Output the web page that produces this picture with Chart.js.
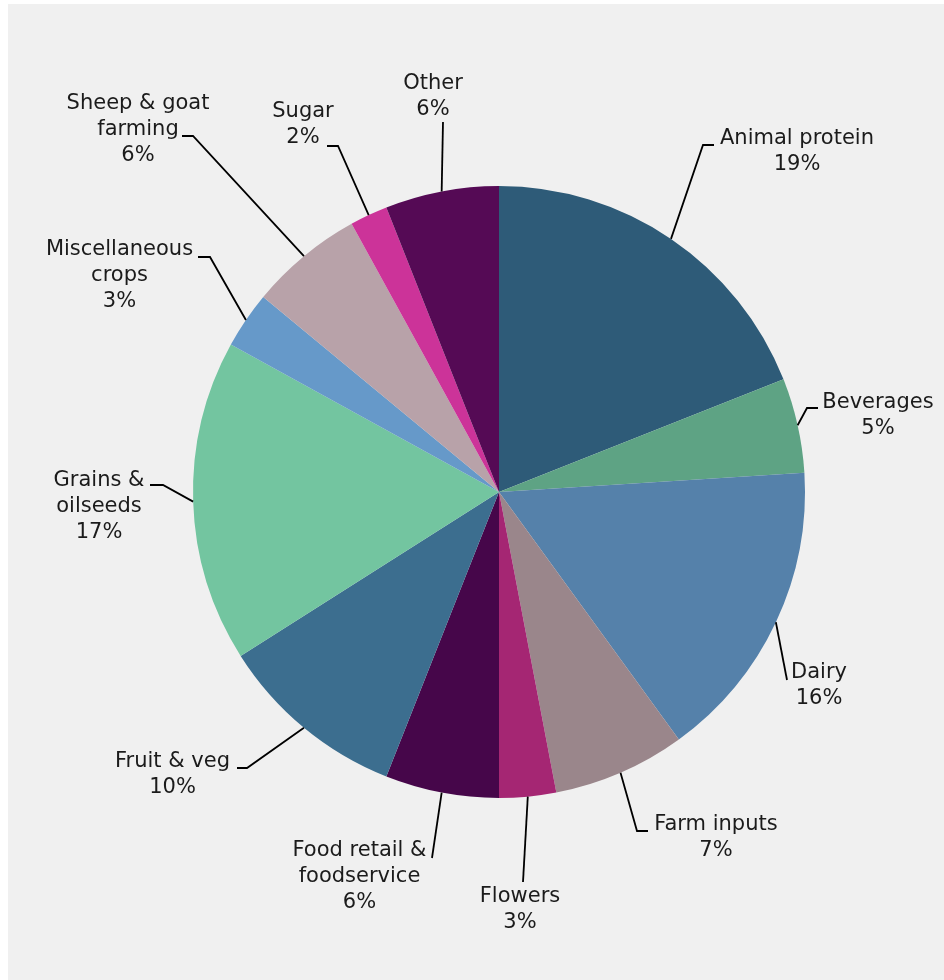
<!DOCTYPE html>
<html>
<head>
<meta charset="utf-8">
<script src="https://cdn.jsdelivr.net/npm/chart.js@4.4.1/dist/chart.umd.min.js"></script>
<style>
  html, body { margin: 0; padding: 0; background: #fff; }
  #panel { position: absolute; left: 8px; top: 4px; right: 0; bottom: 0; background: #f0f0f0; }
  #sectorChart { position: absolute; left: 0; top: 0; }
</style>
</head>
<body>
<div id="panel"></div>
<canvas id="sectorChart" width="944" height="980"></canvas>
<script>
// Sectors and their share (%)
const sectors = ['Animal protein', 'Beverages', 'Dairy', 'Farm inputs', 'Flowers',
  'Food retail & foodservice', 'Fruit & veg', 'Grains & oilseeds', 'Miscellaneous crops',
  'Sheep & goat farming', 'Sugar', 'Other'];
const sectorLines = [['Animal protein'], ['Beverages'], ['Dairy'], ['Farm inputs'], ['Flowers'],
  ['Food retail &', 'foodservice'], ['Fruit & veg'], ['Grains &', 'oilseeds'], ['Miscellaneous', 'crops'],
  ['Sheep & goat', 'farming'], ['Sugar'], ['Other']];
const shares = [19, 5, 16, 7, 3, 6, 10, 17, 3, 6, 2, 6];
const sectorColours = ['#2e5b78', '#5ea384', '#5581aa', '#9a868b', '#a52673', '#46064a',
  '#3c6e8f', '#73c5a0', '#6699c9', '#b8a2a9', '#cc3399', '#550a55'];

// callout layout, offsets from the pie centre: text anchor, leader elbow, leader end
const calloutText = [[298, -353], [379, -89], [320, 181], [217, 333], [21, 405], [-139.5, 359],
  [-326.5, 270], [-400, -11], [-379.5, -242], [-361, -388], [-196, -380], [-66, -408]];
const calloutElbow = [[204, -347], [308, -84], [288, 188], [138, 339], [24, 390], [-67, 366],
  [-252, 276], [-336, -7], [-289, -235], [-306, -356], [-161, -346], [-56, -370]];
const calloutEnd = [[215, -347], [319, -84], [288, 188], [149, 339], [24, 390], [-67, 366],
  [-262, 276], [-349, -7], [-301, -235], [-317, -356], [-172, -346], [-56, -370]];

const callouts = {
  id: 'callouts',
  afterDatasetsDraw(chart) {
    const ctx = chart.ctx;
    const total = shares.reduce((a, b) => a + b, 0);
    const arcs = chart.getDatasetMeta(0).data;
    ctx.save();
    arcs.forEach((arc, i) => {
      const { x, y, startAngle, endAngle, outerRadius } = arc.getProps(['x', 'y', 'startAngle', 'endAngle', 'outerRadius'], true);
      const mid = (startAngle + endAngle) / 2;
      const sx = x + Math.cos(mid) * outerRadius;
      const sy = y + Math.sin(mid) * outerRadius;
      ctx.strokeStyle = '#000';
      ctx.lineWidth = 1.8;
      ctx.beginPath();
      ctx.moveTo(sx, sy);
      ctx.lineTo(x + calloutElbow[i][0], y + calloutElbow[i][1]);
      ctx.lineTo(x + calloutEnd[i][0], y + calloutEnd[i][1]);
      ctx.stroke();

      const lines = sectorLines[i].concat([Math.round(shares[i] / total * 100) + '%']);
      ctx.fillStyle = '#1b1b1b';
      ctx.font = '21px "DejaVu Sans"';
      ctx.textAlign = 'center';
      ctx.textBaseline = 'middle';
      lines.forEach((t, k) => {
        ctx.fillText(t, x + calloutText[i][0], y + calloutText[i][1] + k * 26);
      });
    });
    ctx.restore();
  }
};

new Chart(document.getElementById('sectorChart'), {
  type: 'pie',
  data: {
    labels: sectors,
    datasets: [{ data: shares, backgroundColor: sectorColours, borderWidth: 0 }]
  },
  options: {
    responsive: false,
    animation: false,
    layout: { padding: { left: 193, right: 139, top: 186, bottom: 182 } },
    plugins: { legend: { display: false }, tooltip: { enabled: false } }
  },
  plugins: [callouts]
});
</script>
</body>
</html>
